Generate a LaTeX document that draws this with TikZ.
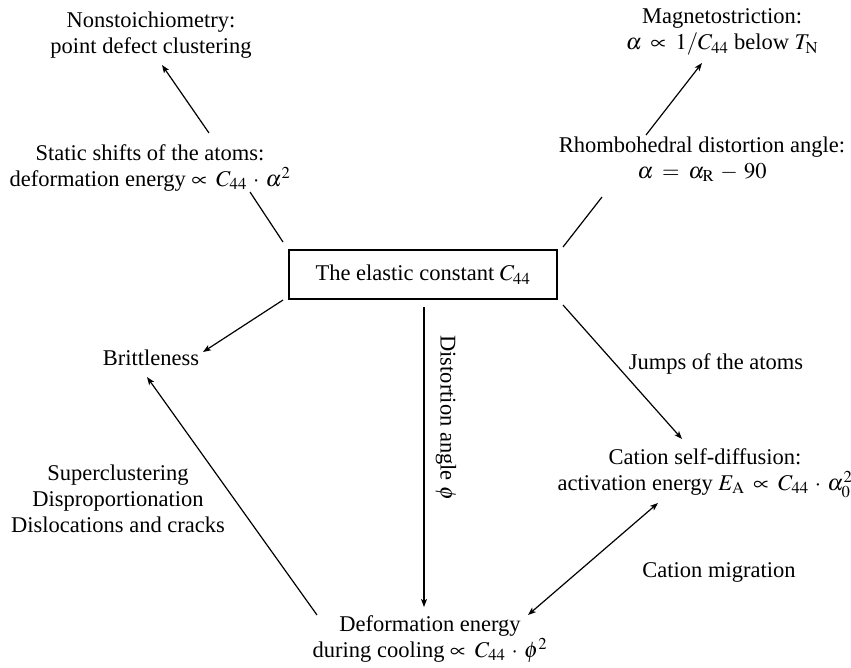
\documentclass[tikz,border=0pt]{standalone}
\usepackage{mathptmx}
\usepackage[no-math]{fontspec}
\setmainfont{Liberation Serif}
\usetikzlibrary{arrows.meta}
\thickmuskip=7mu plus 2mu
\medmuskip=5mu plus 2mu
\begin{document}
\begin{tikzpicture}[x=1pt,y=-1pt,
  lbl/.style={inner sep=0pt, align=center, font=\fontsize{22.5}{26}\selectfont},
  conn/.style={line width=1.2pt},
  arr/.style={conn,-{Stealth[length=8pt,width=6pt,inset=2pt]}},
  darr/.style={conn,{Stealth[length=8pt,width=6pt,inset=2pt]}-{Stealth[length=8pt,width=6pt,inset=2pt]}},
]
\useasboundingbox (0,0) rectangle (851,667);

% nodes
\node[lbl] (nonst) at (151,35) {Nonstoichiometry:\\point defect clustering};
\node[lbl] (static) at (150,168) {Static shifts of the atoms:\\deformation energy $\propto C_{44}\cdot\alpha^2$};
\node[lbl] (magneto) at (722,32) {Magnetostriction:\\$\alpha\propto 1/C_{44}$ below $T_{\mathrm{N}}$};
\node[lbl] (rhombo) at (702,159) {Rhombohedral distortion angle:\\$\alpha=\alpha_{\mathrm{R}}-90$};
\node[lbl, draw, line width=1.2pt, minimum width=268pt, minimum height=49pt] (box) at (423,274.5) {The elastic constant $C_{44}$};
\node[lbl, anchor=base] (brittle) at (151,365) {Brittleness};
\node[lbl, anchor=base] (jumps) at (716,369) {Jumps of the atoms};
\node[lbl] (cation) at (705,473) {Cation self-diffusion:\\activation energy $E_{\mathrm{A}}\propto C_{44}\cdot\alpha_0^2$};
\node[lbl] (super) at (118,499) {Superclustering\\Disproportionation\\Dislocations and cracks};
\node[lbl, anchor=base] (migr) at (719,577) {Cation migration};
\node[lbl] (deform) at (430,639) {Deformation energy\\during cooling $\propto C_{44}\cdot\phi^2$};
\node[lbl, rotate=-90] (dist) at (446,418) {Distortion angle $\phi$};

% connector end points
\coordinate (s1) at (209,133); \coordinate (n1) at (162,65);
\coordinate (s2) at (250,192); \coordinate (b1) at (283,242);
\coordinate (r1) at (646,135); \coordinate (m1) at (702,63);
\coordinate (r2) at (602,197); \coordinate (b2) at (563,247);
\coordinate (b3) at (563,305); \coordinate (c1) at (682,439);
\coordinate (d1) at (528,615); \coordinate (c2) at (658,503);
\coordinate (b4) at (424,307); \coordinate (d2) at (424,607);
\coordinate (b5) at (283,300); \coordinate (br1) at (203,352);
\coordinate (d3) at (317,615); \coordinate (br2) at (147,377);

% connectors
\draw[arr] (s1) -- (n1);
\draw[conn] (s2) -- (b1);
\draw[arr] (r1) -- (m1);
\draw[conn] (r2) -- (b2);
\draw[arr] (b3) -- (c1);
\draw[darr] (d1) -- (c2);
\draw[arr] (b4) -- (d2);
\draw[arr] (b5) -- (br1);
\draw[arr] (d3) -- (br2);
\end{tikzpicture}
\end{document}
